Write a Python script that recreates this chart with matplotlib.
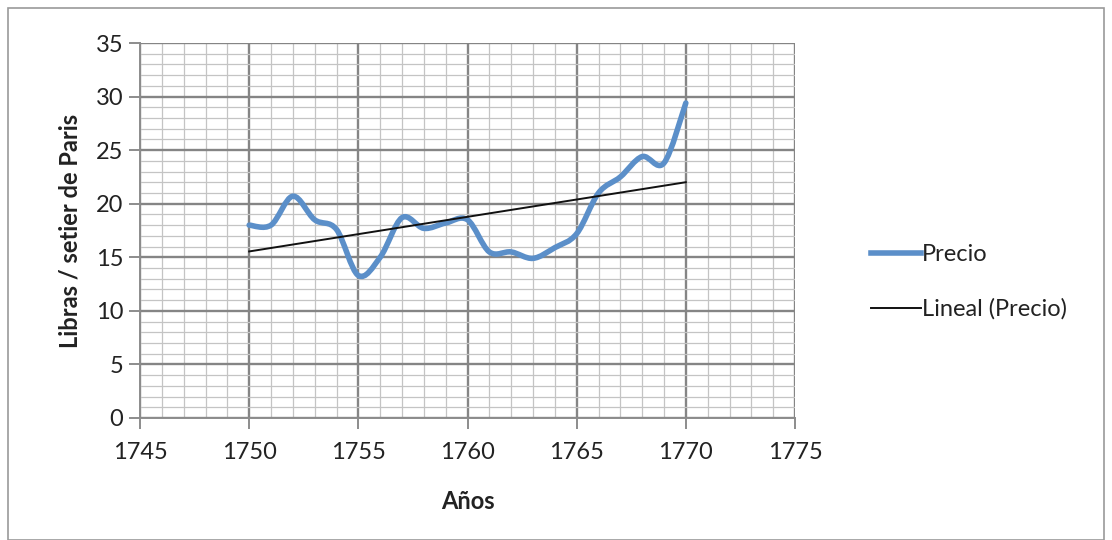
import numpy as np
import matplotlib
matplotlib.use("Agg")
import matplotlib.pyplot as plt
from matplotlib.path import Path
from matplotlib.patches import PathPatch, Rectangle
from matplotlib.lines import Line2D

years = [1750, 1751, 1752, 1753, 1754, 1755, 1756, 1757, 1758, 1759, 1760,
         1761, 1762, 1763, 1764, 1765, 1766, 1767, 1768, 1769, 1770]
precio = [18.0, 18.0, 20.7, 18.5, 17.6, 13.3, 15.0, 18.7, 17.7, 18.2, 18.5,
          15.5, 15.5, 14.9, 15.9, 17.2, 21.0, 22.5, 24.4, 23.8, 29.4]
xticks = [1745, 1750, 1755, 1760, 1765, 1770, 1775]
yticks = [0, 5, 10, 15, 20, 25, 30, 35]

plt.rcParams['font.family'] = ['Lato', 'DejaVu Sans']

fig = plt.figure(figsize=(11.12, 5.4), dpi=100)
ax = fig.add_axes([140/1112, 1-418/540, (795-140)/1112, (418-43)/540])

# Outer chart border
fig.patches.append(Rectangle((8/1112, 0.0), (1104-8)/1112, 1-8/540,
                             transform=fig.transFigure, fill=False,
                             edgecolor='#9a9a9a', linewidth=1.2))

ax.set_xlim(1745, 1775)
ax.set_ylim(0, 35)
ax.set_xticks(xticks)
ax.set_yticks(yticks)
ax.set_xticks(np.arange(1745, 1776, 1), minor=True)
ax.set_yticks(np.arange(0, 36, 1), minor=True)
ax.grid(which='major', color='#858585', linewidth=1.7)
ax.grid(which='minor', color='#c4c4c4', linewidth=0.9)
ax.set_axisbelow(True)
for s in ['top', 'right']:
    ax.spines[s].set_visible(False)
for s in ['left', 'bottom']:
    ax.spines[s].set_color('#8c8c8c')
    ax.spines[s].set_linewidth(1.4)
ax.tick_params(which='major', direction='out', length=8, width=1.4, color='#8c8c8c',
               labelsize=17, labelcolor='#222222')
ax.tick_params(axis='x', which='major', pad=9)
ax.tick_params(axis='y', which='major', pad=4)
ax.tick_params(which='minor', length=0)

# Smoothed (Excel-style) curve through the data points
x = np.array(years, dtype=float)
y = np.array(precio, dtype=float)
verts = [(x[0], y[0])]
codes = [Path.MOVETO]
n = len(x)
for i in range(n - 1):
    p0 = (x[i-1], y[i-1]) if i > 0 else (x[i], y[i])
    p1 = (x[i], y[i])
    p2 = (x[i+1], y[i+1])
    p3 = (x[i+2], y[i+2]) if i + 2 < n else (x[i+1], y[i+1])
    c1 = (p1[0] + (p2[0]-p0[0])/6, p1[1] + (p2[1]-p0[1])/6)
    c2 = (p2[0] - (p3[0]-p1[0])/6, p2[1] - (p3[1]-p1[1])/6)
    verts += [c1, c2, p2]
    codes += [Path.CURVE4]*3
ax.add_patch(PathPatch(Path(verts, codes), fill=False, edgecolor='#5b8fc9',
                       linewidth=4, capstyle='round', joinstyle='round', zorder=3))

coef = np.polyfit(x, y, 1)
ax.plot([x[0], x[-1]], np.polyval(coef, [x[0], x[-1]]), color='#111111',
        linewidth=1.4, zorder=4)

ax.set_xlabel('Años', fontsize=17, fontweight='bold', labelpad=20, color='#222222')
ax.set_ylabel('Libras / setier de Paris', fontsize=17, fontweight='bold', labelpad=10,
              color='#222222')

handles = [Line2D([], [], color='#5b8fc9', linewidth=4),
           Line2D([], [], color='#111111', linewidth=1.4)]
fig.legend(handles, ['Precio', 'Lineal (Precio)'], loc='center left',
           bbox_to_anchor=(850/1112, 1-282/540), frameon=False, fontsize=17,
           handlelength=2.1, handletextpad=0.05, labelspacing=1.4,
           labelcolor='#222222')

fig.savefig('out.png', dpi=100)
